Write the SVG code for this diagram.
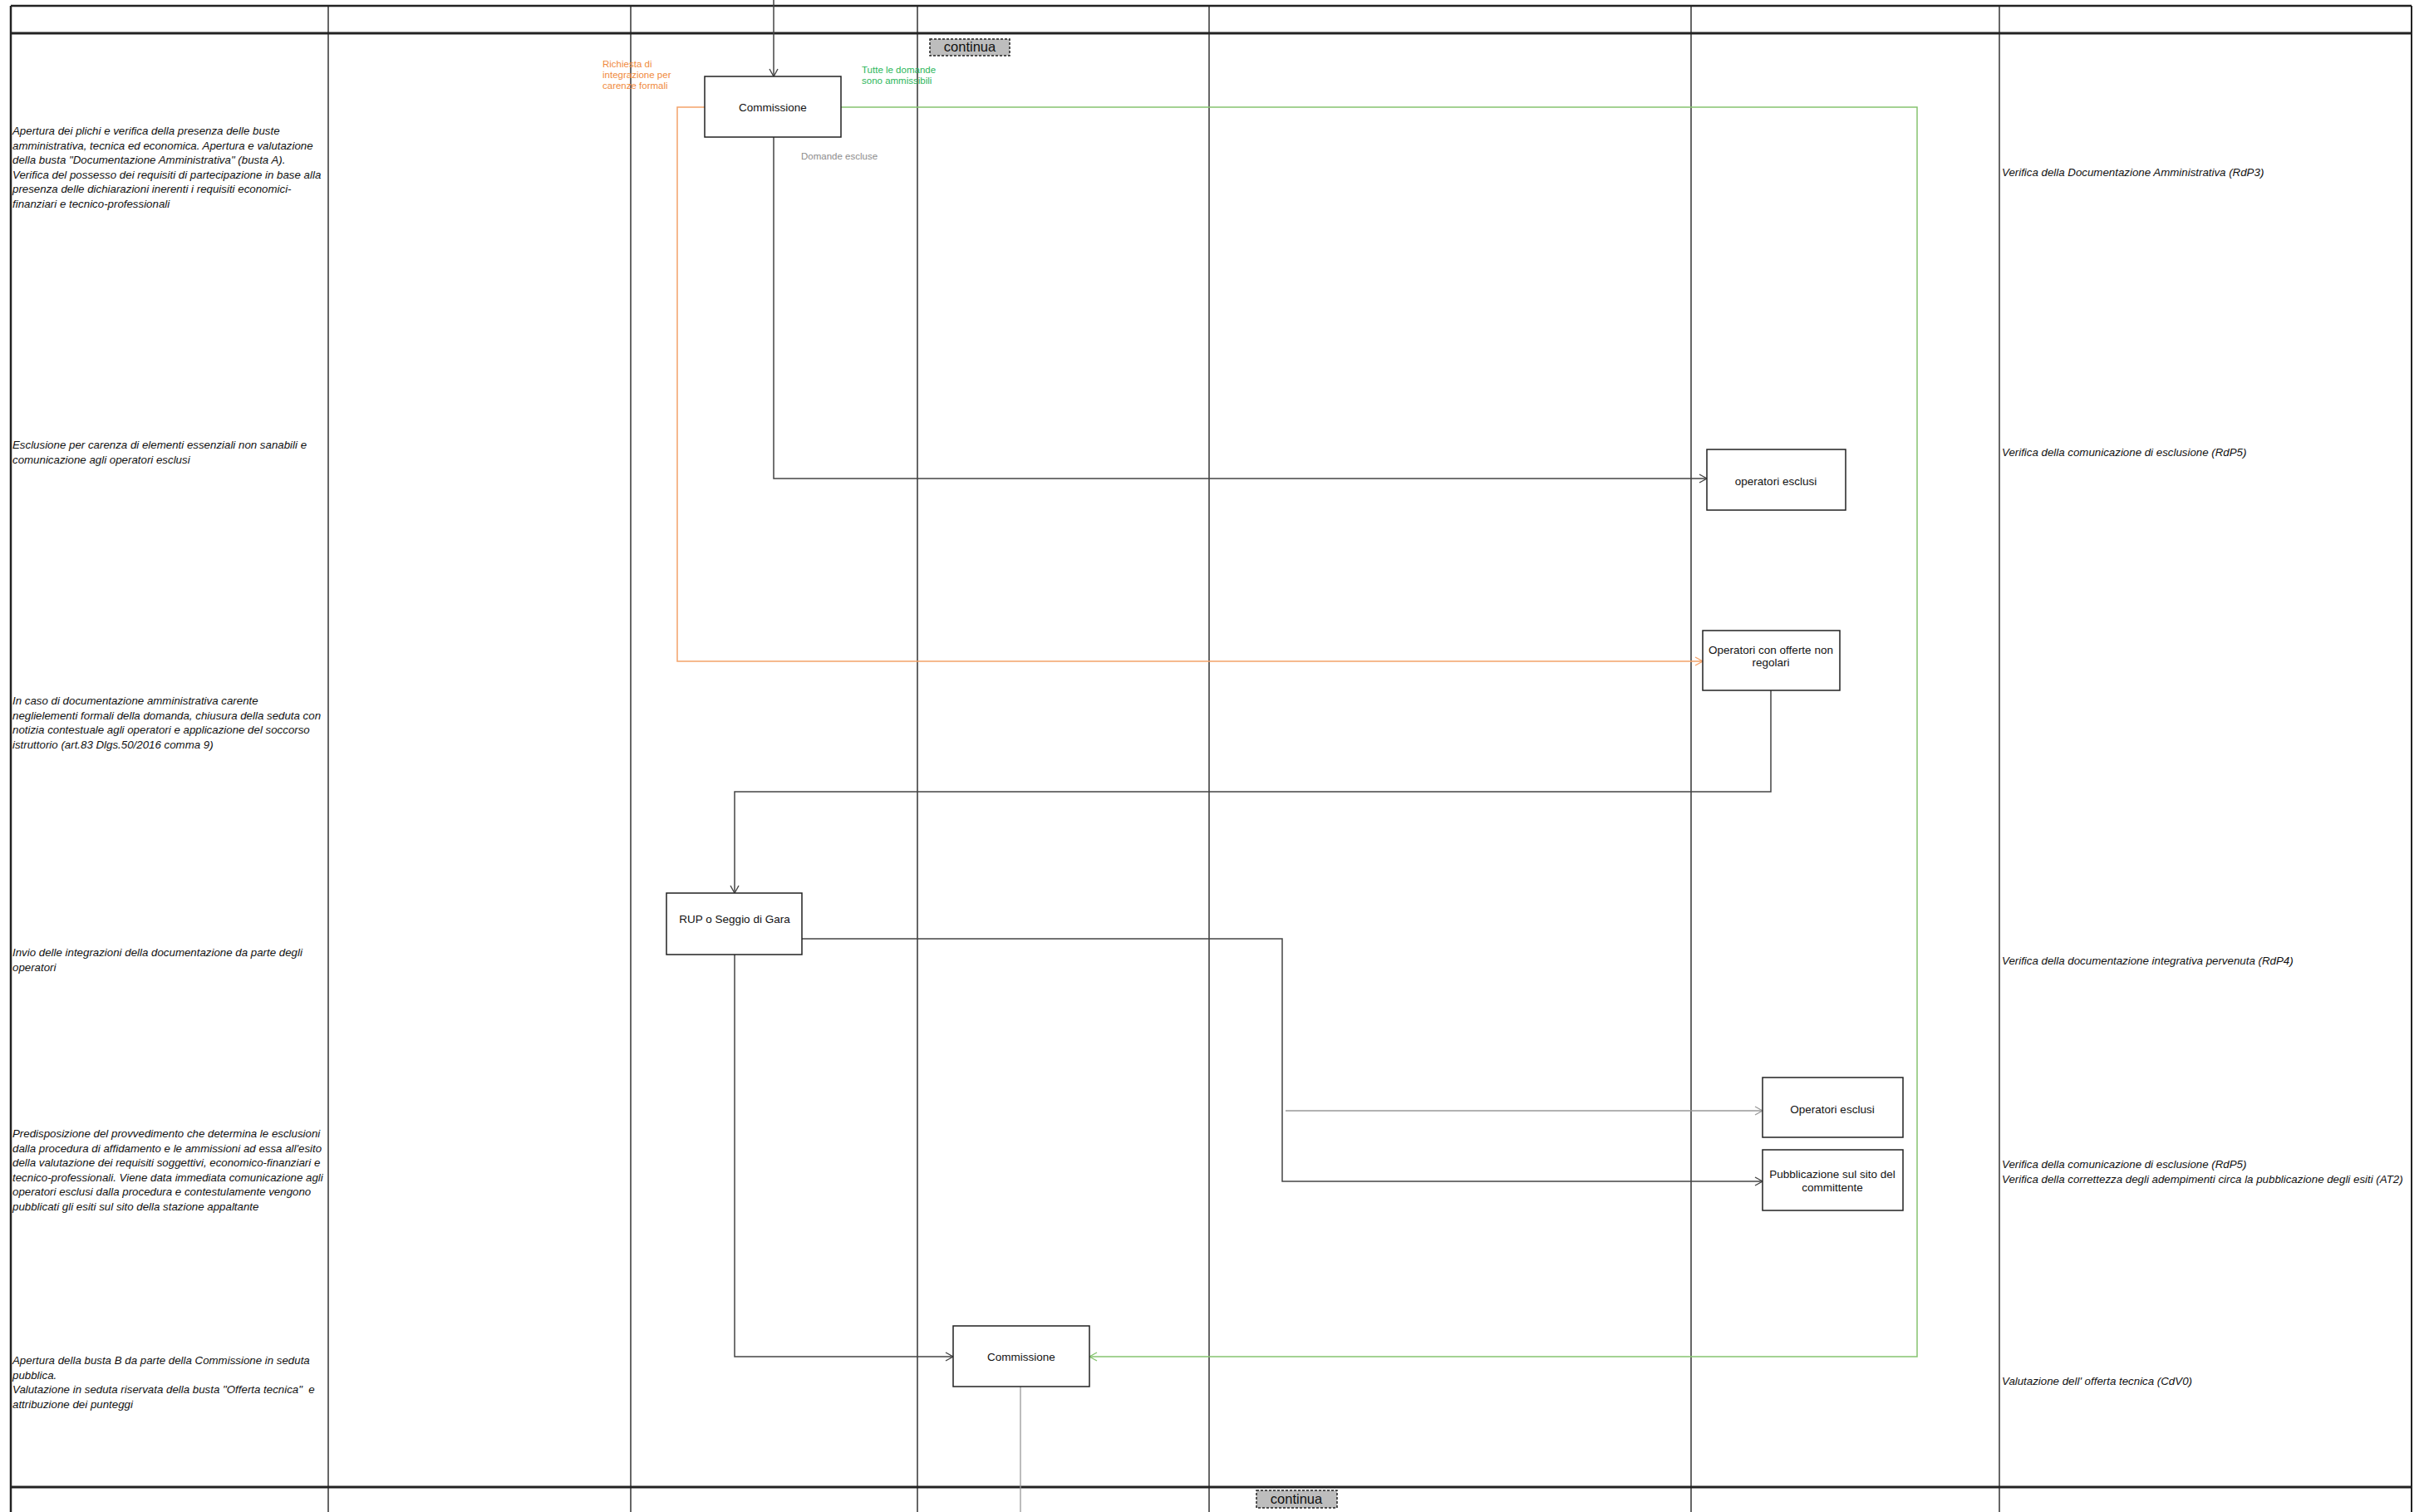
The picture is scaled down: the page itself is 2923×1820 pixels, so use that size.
<svg xmlns="http://www.w3.org/2000/svg" width="2923" height="1820" viewBox="0 0 2923 1820">
<style>
.lane{stroke:#333;stroke-width:1.5;fill:none}
.frame{stroke:#222;fill:none}
.desc{font-family:"Liberation Sans",Arial,sans-serif;font-size:13.3px;font-style:italic;fill:#111}
.box rect{fill:#fff;stroke:#222;stroke-width:1.5}
.box text{font-family:"Liberation Sans",Arial,sans-serif;font-size:13.5px;fill:#111;text-anchor:middle}
.cont rect{fill:#bdbdbd;stroke:#222;stroke-width:1.5;stroke-dasharray:3 2}
.cont text{font-family:"Liberation Sans",Arial,sans-serif;font-size:16.5px;fill:#111;text-anchor:middle}
.lbl{font-family:"Liberation Sans",Arial,sans-serif;font-size:11.5px}
.c-dark{stroke:#444;stroke-width:1.5;fill:none}
.c-gray{stroke:#999;stroke-width:1.3;fill:none}
.c-orange{stroke:#f4a36a;stroke-width:1.5;fill:none}
.c-green{stroke:#86c470;stroke-width:1.5;fill:none}
</style>
<defs>
<marker id="ad" markerUnits="userSpaceOnUse" markerWidth="12" markerHeight="12" refX="10" refY="6" orient="auto"><path d="M1,1 L10,6 L1,11" fill="none" stroke="#444" stroke-width="1.4"/></marker>
<marker id="ag" markerUnits="userSpaceOnUse" markerWidth="12" markerHeight="12" refX="10" refY="6" orient="auto"><path d="M1,1 L10,6 L1,11" fill="none" stroke="#999" stroke-width="1.3"/></marker>
<marker id="ao" markerUnits="userSpaceOnUse" markerWidth="12" markerHeight="12" refX="10" refY="6" orient="auto"><path d="M1,1 L10,6 L1,11" fill="none" stroke="#f4a36a" stroke-width="1.4"/></marker>
<marker id="agr" markerUnits="userSpaceOnUse" markerWidth="12" markerHeight="12" refX="10" refY="6" orient="auto"><path d="M1,1 L10,6 L1,11" fill="none" stroke="#86c470" stroke-width="1.4"/></marker>
</defs>
<rect width="2923" height="1820" fill="#fff"/>
<g id="lanes">
<line class="lane" x1="395" y1="7" x2="395" y2="1820"/>
<line class="lane" x1="759" y1="7" x2="759" y2="1820"/>
<line class="lane" x1="1104" y1="7" x2="1104" y2="1820"/>
<line class="lane" x1="1455" y1="7" x2="1455" y2="1820"/>
<line class="lane" x1="2035" y1="7" x2="2035" y2="1820"/>
<line class="lane" x1="2406" y1="7" x2="2406" y2="1820"/>
<line class="frame" x1="13" y1="7" x2="13" y2="1820" stroke-width="2.5"/>
<line class="frame" x1="2902" y1="7" x2="2902" y2="1820" stroke-width="2"/>
<line class="frame" x1="13" y1="7" x2="2902" y2="7" stroke-width="2.5"/>
<line class="frame" x1="13" y1="40" x2="2902" y2="40" stroke-width="3"/>
<line class="frame" x1="13" y1="1790" x2="2902" y2="1790" stroke-width="3"/>
</g>
<g id="descriptions">
<text class="desc" x="15" y="162">Apertura dei plichi e verifica della presenza delle buste</text>
<text class="desc" x="15" y="179.5">amministrativa, tecnica ed economica. Apertura e valutazione</text>
<text class="desc" x="15" y="197">della busta "Documentazione Amministrativa" (busta A).</text>
<text class="desc" x="15" y="214.5">Verifica del possesso dei requisiti di partecipazione in base alla</text>
<text class="desc" x="15" y="232">presenza delle dichiarazioni inerenti i requisiti economici-</text>
<text class="desc" x="15" y="249.5">finanziari e tecnico-professionali</text>
<text class="desc" x="15" y="540">Esclusione per carenza di elementi essenziali non sanabili e</text>
<text class="desc" x="15" y="557.5">comunicazione agli operatori esclusi</text>
<text class="desc" x="15" y="848">In caso di documentazione amministrativa carente</text>
<text class="desc" x="15" y="865.5">neglielementi formali della domanda, chiusura della seduta con</text>
<text class="desc" x="15" y="883">notizia contestuale agli operatori e applicazione del soccorso</text>
<text class="desc" x="15" y="900.5">istruttorio (art.83 Dlgs.50/2016 comma 9)</text>
<text class="desc" x="15" y="1151">Invio delle integrazioni della documentazione da parte degli</text>
<text class="desc" x="15" y="1168.5">operatori</text>
<text class="desc" x="15" y="1369">Predisposizione del provvedimento che determina le esclusioni</text>
<text class="desc" x="15" y="1386.5">dalla procedura di affidamento e le ammissioni ad essa all'esito</text>
<text class="desc" x="15" y="1404">della valutazione dei requisiti soggettivi, economico-finanziari e</text>
<text class="desc" x="15" y="1421.5">tecnico-professionali. Viene data immediata comunicazione agli</text>
<text class="desc" x="15" y="1439">operatori esclusi dalla procedura e contestulamente vengono</text>
<text class="desc" x="15" y="1456.5">pubblicati gli esiti sul sito della stazione appaltante</text>
<text class="desc" x="15" y="1642">Apertura della busta B da parte della Commissione in seduta</text>
<text class="desc" x="15" y="1659.5">pubblica.</text>
<text class="desc" x="15" y="1677">Valutazione in seduta riservata della busta "Offerta tecnica"&#160; e</text>
<text class="desc" x="15" y="1694.5">attribuzione dei punteggi</text>
<text class="desc" x="2409" y="212">Verifica della Documentazione Amministrativa (RdP3)</text>
<text class="desc" x="2409" y="549">Verifica della comunicazione di esclusione (RdP5)</text>
<text class="desc" x="2409" y="1161">Verifica della documentazione integrativa pervenuta (RdP4)</text>
<text class="desc" x="2409" y="1406">Verifica della comunicazione di esclusione (RdP5)</text>
<text class="desc" x="2409" y="1423.5">Verifica della correttezza degli adempimenti circa la pubblicazione degli esiti (AT2)</text>
<text class="desc" x="2409" y="1667">Valutazione dell' offerta tecnica (CdV0)</text>
</g>
<g id="connectors">
<path class="c-dark" d="M931,0 V92" marker-end="url(#ad)"/>
<path class="c-orange" d="M848,129 H815 V796 H2049" marker-end="url(#ao)"/>
<path class="c-green" d="M1012,129 H2307 V1633 H1311" marker-end="url(#agr)"/>
<path class="c-dark" d="M931,165 V576 H2054" marker-end="url(#ad)"/>
<path class="c-dark" d="M2131,831 V953 H884 V1075" marker-end="url(#ad)"/>
<path class="c-dark" d="M965,1130 H1543 V1422 H2121" marker-end="url(#ad)"/>
<path class="c-gray" d="M1547,1337 H2121" marker-end="url(#ag)"/>
<path class="c-dark" d="M884,1149 V1633 H1147" marker-end="url(#ad)"/>
<path class="c-gray" d="M1228,1669 V1820"/>
<text class="lbl" fill="#f08a3c" x="725" y="81">Richiesta di</text>
<text class="lbl" fill="#f08a3c" x="725" y="94">integrazione per</text>
<text class="lbl" fill="#f08a3c" x="725" y="107">carenze formali</text>
<text class="lbl" fill="#2bb65a" x="1037" y="88">Tutte le domande</text>
<text class="lbl" fill="#2bb65a" x="1037" y="101">sono ammissibili</text>
<text class="lbl" fill="#8c8c8c" x="964" y="192">Domande escluse</text>
</g>
<g id="continua-top" class="cont"><rect x="1119" y="47" width="96" height="20"/><text x="1167" y="62">continua</text></g>
<g id="commissione-1" class="box"><rect x="848" y="92" width="164" height="73"/><text x="930" y="134">Commissione</text></g>
<g id="operatori-esclusi-1" class="box"><rect x="2054" y="541" width="167" height="73"/><text x="2137" y="584">operatori esclusi</text></g>
<g id="operatori-offerte" class="box"><rect x="2049" y="759" width="165" height="72"/><text x="2131" y="787">Operatori con offerte non</text><text x="2131" y="802">regolari</text></g>
<g id="rup" class="box"><rect x="802" y="1075" width="163" height="74"/><text x="884" y="1111">RUP o Seggio di Gara</text></g>
<g id="operatori-esclusi-2" class="box"><rect x="2121" y="1297" width="169" height="72"/><text x="2205" y="1340">Operatori esclusi</text></g>
<g id="pubblicazione" class="box"><rect x="2121" y="1384" width="169" height="73"/><text x="2205" y="1418">Pubblicazione sul sito del</text><text x="2205" y="1434">committente</text></g>
<g id="commissione-2" class="box"><rect x="1147" y="1596" width="164" height="73"/><text x="1229" y="1638">Commissione</text></g>
<g id="continua-bottom" class="cont"><rect x="1512" y="1794" width="97" height="21"/><text x="1560" y="1810">continua</text></g>
</svg>
